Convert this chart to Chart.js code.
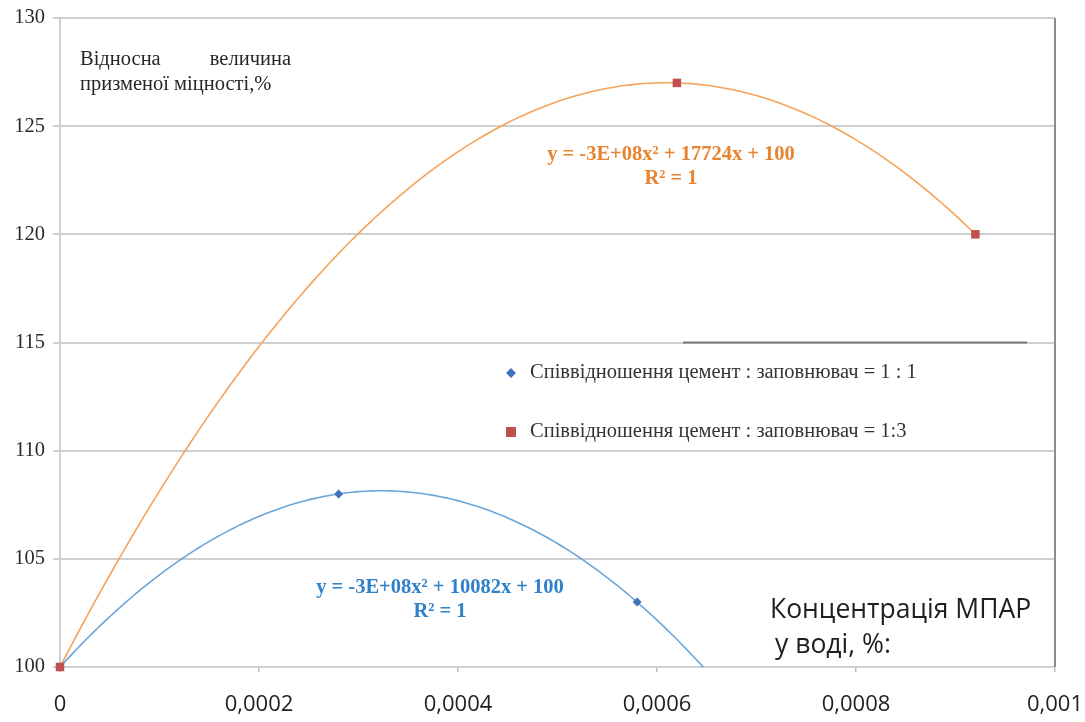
<!DOCTYPE html>
<html lang="uk">
<head>
<meta charset="utf-8">
<title>Відносна величина призменої міцності</title>
<script src="https://cdn.jsdelivr.net/npm/chart.js@4.4.1/dist/chart.umd.min.js"></script>
<style>
  html, body { margin: 0; padding: 0; background: #ffffff; }
  #wrap { width: 1085px; height: 722px; position: relative; }
</style>
</head>
<body>
<div id="wrap"><canvas id="chart" width="1085" height="722"></canvas></div>
<script>
// Measured points: MPAR concentration in water (%) vs relative prism strength (%)
const seriesNames = [
  'Співвідношення цемент : заповнювач = 1 : 1',
  'Співвідношення цемент : заповнювач = 1:3'
];
const mix11X = [0, 0.00028, 0.00058];
const mix11Y = [100, 108, 103];
const mix13X = [0, 0.00062, 0.00092];
const mix13Y = [100, 127, 120];

// Trendline captions as printed on the chart
const mix11Equation = ['y = -3E+08x² + 10082x + 100', 'R² = 1'];
const mix13Equation = ['y = -3E+08x² + 17724x + 100', 'R² = 1'];

// Axis ticks
const xTicks = [0, 0.0002, 0.0004, 0.0006, 0.0008, 0.001];
const yTicks = [100, 105, 110, 115, 120, 125, 130];

const yTitle = ['Відносна', 'величина', 'призменої міцності,%'];
const xTitle = ['Концентрація МПАР', 'у воді, %:'];

// Second-order polynomial trendline through the measured points (Lagrange form)
function quadTrend(xs, ys, x0, x1, n) {
  const f = x => {
    let s = 0;
    for (let i = 0; i < 3; i++) {
      let t = ys[i];
      for (let j = 0; j < 3; j++) if (j !== i) t *= (x - xs[j]) / (xs[i] - xs[j]);
      s += t;
    }
    return s;
  };
  const pts = [];
  for (let k = 0; k <= n; k++) {
    const x = x0 + (x1 - x0) * k / n;
    pts.push({ x, y: f(x) });
  }
  return pts;
}
const toPts = (xs, ys) => xs.map((x, i) => ({ x, y: ys[i] }));

const BLUE_LINE = '#6aa6da';
const BLUE_PT = '#3f72b8';
const ORANGE_LINE = '#f5a25a';
const RED_PT = '#c0504d';
const GRID = '#cfcfcf';
const SERIF = '"Liberation Serif", "Times New Roman", serif';
const SANS = '"Open Sans", "Liberation Sans", Arial, sans-serif';

const fmtX = v => {
  let s = Number(v).toFixed(4).replace(/0+$/, '').replace(/\.$/, '');
  return s.replace('.', ',');
};

// Titles, trendline captions, legend and frame details drawn on top of the chart
const overlay = {
  id: 'overlay',
  afterDraw(chart) {
    const { ctx, chartArea: a, scales } = chart;
    ctx.save();

    // right frame edge and the darker stroke along the legend top
    ctx.strokeStyle = '#8c8c8c';
    ctx.lineWidth = 2;
    ctx.beginPath();
    ctx.moveTo(a.right, a.top);
    ctx.lineTo(a.right, a.bottom);
    ctx.stroke();
    const y115 = scales.y.getPixelForValue(115);
    ctx.strokeStyle = '#7a7a7a';
    ctx.beginPath();
    ctx.moveTo(683, y115);
    ctx.lineTo(1027, y115);
    ctx.stroke();

    // y title inside the plot, justified first line
    ctx.fillStyle = '#262626';
    ctx.font = '20.5px ' + SERIF;
    ctx.textBaseline = 'middle';
    ctx.textAlign = 'left';
    ctx.fillText(yTitle[0], 80, 60);
    ctx.textAlign = 'right';
    ctx.fillText(yTitle[1], 291, 60);
    ctx.textAlign = 'left';
    ctx.fillText(yTitle[2], 80, 85);

    // x title
    ctx.fillStyle = '#1f1f1f';
    ctx.font = '26.5px ' + SANS;
    ctx.fillText(xTitle[0], 770, 610);
    ctx.fillText(xTitle[1], 775, 645);

    // trendline captions
    ctx.textAlign = 'center';
    ctx.font = 'bold 20.5px ' + SERIF;
    ctx.fillStyle = '#e8832f';
    ctx.fillText(mix13Equation[0], 671, 155);
    ctx.fillText(mix13Equation[1], 671, 179);
    ctx.fillStyle = '#2f82c9';
    ctx.fillText(mix11Equation[0], 440, 588);
    ctx.fillText(mix11Equation[1], 440, 612);

    // legend
    ctx.textAlign = 'left';
    ctx.font = '20.5px ' + SERIF;
    const lx = 511;
    const rows = [373, 432];
    // diamond marker
    ctx.save();
    ctx.fillStyle = BLUE_PT;
    ctx.translate(lx, rows[0]);
    ctx.rotate(Math.PI / 4);
    ctx.fillRect(-3.5, -3.5, 7, 7);
    ctx.restore();
    // square marker
    ctx.fillStyle = RED_PT;
    ctx.fillRect(lx - 5, rows[1] - 5, 10, 10);
    ctx.fillStyle = '#333333';
    ctx.fillText(seriesNames[0], 530, rows[0]);
    ctx.fillText(seriesNames[1], 530, rows[1]);

    ctx.restore();
  }
};

new Chart(document.getElementById('chart'), {
  type: 'scatter',
  data: {
    datasets: [
      {
        label: seriesNames[0] + ' (trend)',
        type: 'line',
        data: quadTrend(mix11X, mix11Y, 0, 0.00068, 160),
        borderColor: BLUE_LINE,
        borderWidth: 1.6,
        pointRadius: 0,
        fill: false,
        order: 3
      },
      {
        label: seriesNames[1] + ' (trend)',
        type: 'line',
        data: quadTrend(mix13X, mix13Y, 0, 0.00092, 160),
        borderColor: ORANGE_LINE,
        borderWidth: 1.6,
        pointRadius: 0,
        fill: false,
        order: 3
      },
      {
        label: seriesNames[0],
        data: toPts(mix11X, mix11Y),
        pointStyle: 'rectRot',
        pointRadius: 4.5,
        backgroundColor: BLUE_PT,
        borderColor: BLUE_PT,
        borderWidth: 0,
        clip: false,
        order: 2
      },
      {
        label: seriesNames[1],
        data: toPts(mix13X, mix13Y),
        pointStyle: 'rect',
        pointRadius: 6,
        backgroundColor: RED_PT,
        borderColor: RED_PT,
        borderWidth: 0,
        clip: false,
        order: 1
      }
    ]
  },
  options: {
    responsive: false,
    animation: false,
    devicePixelRatio: 1,
    layout: { padding: { left: 0, top: 18, right: 30, bottom: 0 } },
    plugins: {
      legend: { display: false },
      tooltip: { enabled: false },
      title: { display: false }
    },
    scales: {
      x: {
        type: 'linear',
        min: xTicks[0],
        max: xTicks[xTicks.length - 1],
        afterBuildTicks: axis => { axis.ticks = xTicks.map(v => ({ value: v })); },
        afterFit: axis => { axis.height = 55; axis.paddingLeft = 0; axis.paddingRight = 0; },
        border: { color: GRID, width: 2 },
        grid: { drawOnChartArea: false, color: '#bdbdbd', tickLength: 5, lineWidth: 1.5 },
        ticks: {
          callback: v => fmtX(v),
          font: { family: SANS, size: 22 },
          color: '#1f1f1f',
          padding: 20,
          maxRotation: 0
        }
      },
      y: {
        type: 'linear',
        min: yTicks[0],
        max: yTicks[yTicks.length - 1],
        afterBuildTicks: axis => { axis.ticks = yTicks.map(v => ({ value: v })); },
        afterFit: axis => { axis.width = 60; axis.paddingTop = 0; axis.paddingBottom = 0; },
        border: { color: GRID, width: 2 },
        grid: { color: GRID, lineWidth: 2, tickLength: 7 },
        ticks: {
          font: { family: SERIF, size: 20.5 },
          color: '#2b2b2b',
          padding: 8
        }
      }
    }
  },
  plugins: [overlay]
});
</script>
</body>
</html>
